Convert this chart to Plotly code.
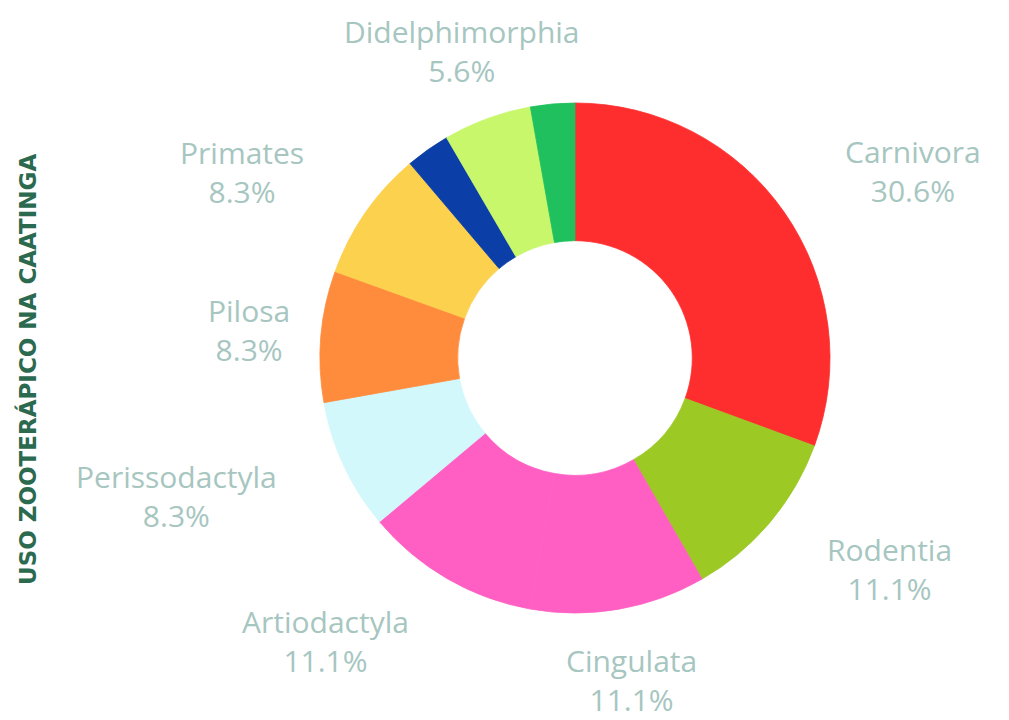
import math
import plotly.graph_objects as go

# Ordens de mamíferos (sentido horário a partir das 12h)
ordens = ["Carnivora", "Rodentia", "Cingulata", "Artiodactyla", "Perissodactyla",
          "Pilosa", "Primates", "", "Didelphimorphia", ""]
percentuais = [30.6, 11.1, 11.1, 11.1, 8.3, 8.3, 8.3, 2.8, 5.6, 2.8]
cores = ["#fe2e2e", "#9cc924", "#ff5fc3", "#ff5fc3", "#d2f8fb",
         "#ff8c3c", "#fbd14e", "#0c3ea8", "#c8f76c", "#20c05e"]

W, H = 1009, 720
cx, cy = 575, 358          # centro do anel (px)
raio = 255                 # raio externo do anel (px)
raio_rotulos = 327         # distância dos rótulos ao centro (px)

fig = go.Figure(go.Pie(
    values=percentuais,
    sort=False,
    direction="clockwise",
    rotation=0,
    hole=0.46,
    textinfo="none",
    marker=dict(colors=cores, line=dict(width=0.8, color=cores)),
    domain=dict(x=[(cx - raio) / W, (cx + raio) / W],
                y=[(H - cy - raio) / H, (H - cy + raio) / H]),
    customdata=ordens,
    hovertemplate="%{customdata}: %{value:.1f}%<extra></extra>",
    showlegend=False,
))

# Rótulos externos posicionados no ângulo médio de cada fatia
total = sum(percentuais)
acumulado = 0.0
for nome, valor in zip(ordens, percentuais):
    meio = (acumulado + valor / 2) / total * 2 * math.pi
    acumulado += valor
    if not nome:
        continue
    ux, uy = math.sin(meio), math.cos(meio)
    if abs(ux) < 0.35 or abs(ux) > 0.98:
        ancora = "center"
    else:
        ancora = "left" if ux > 0 else "right"
    fig.add_annotation(
        text=f"{nome}<br>{valor:.1f}%",
        x=(cx + raio_rotulos * ux) / W,
        y=(H - cy + raio_rotulos * uy) / H,
        xref="paper", yref="paper",
        xanchor=ancora, yanchor="middle", align="center",
        showarrow=False,
        font=dict(family="Open Sans", size=30, color="#a6c6bf"),
    )

fig.add_annotation(
    text="<b>USO ZOOTERÁPICO NA CAATINGA</b>",
    x=28 / W, y=1 - 370 / H, xref="paper", yref="paper",
    xanchor="center", yanchor="middle",
    textangle=-90, showarrow=False,
    font=dict(family="DejaVu Sans", size=23, color="#2c6a50"),
)

fig.update_layout(
    width=W, height=H,
    margin=dict(l=0, r=0, t=0, b=0),
    paper_bgcolor="white", plot_bgcolor="white",
)

fig.write_html("out.html")
